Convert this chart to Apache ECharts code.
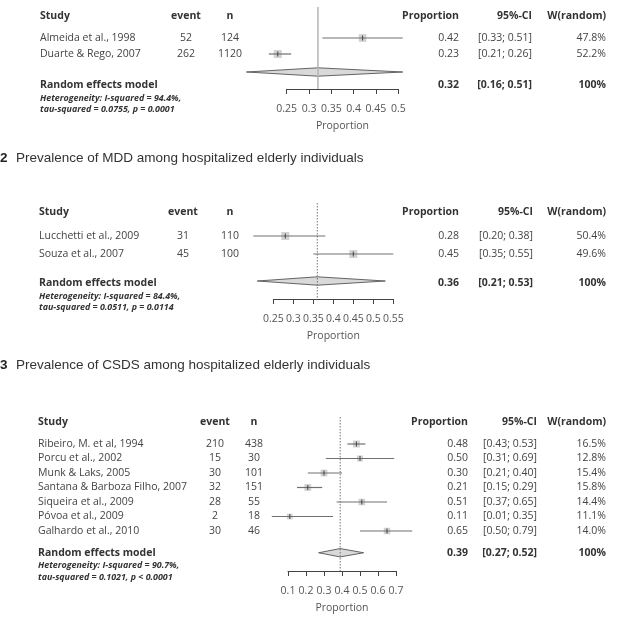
<!DOCTYPE html>
<html>
<head>
<meta charset="utf-8">
<script src="https://cdn.jsdelivr.net/npm/echarts@6.0.0/dist/echarts.min.js"></script>
<style>
  html, body { margin: 0; padding: 0; background: #fff; }
  #chart { width: 621px; height: 621px; }
</style>
</head>
<body>
<div id="chart"></div>
<script>
// ---- data: panel 1 (its title is cropped off) ----
const studies1 = ["Almeida et al., 1998", "Duarte & Rego, 2007"];
const events1 = [52, 262];
const totals1 = [124, 1120];
const props1 = [0.42, 0.23];
const ciLow1 = [0.33, 0.21];
const ciHigh1 = [0.51, 0.26];
const weights1 = ["47.8%", "52.2%"];
const summary1 = [0.32, 0.16, 0.51];
const summaryText1 = ["0.32", "[0.16; 0.51]", "100%"];
const het1 = ["Heterogeneity: I-squared = 94.4%,", "tau-squared = 0.0755, p = 0.0001"];
const ticks1 = [0.25, 0.3, 0.35, 0.4, 0.45, 0.5];

// ---- data: panel 2 ----
const title2 = ["2", "Prevalence of MDD among hospitalized elderly individuals"];
const studies2 = ["Lucchetti et al., 2009", "Souza et al., 2007"];
const events2 = [31, 45];
const totals2 = [110, 100];
const props2 = [0.28, 0.45];
const ciLow2 = [0.20, 0.35];
const ciHigh2 = [0.38, 0.55];
const weights2 = ["50.4%", "49.6%"];
const summary2 = [0.36, 0.21, 0.53];
const summaryText2 = ["0.36", "[0.21; 0.53]", "100%"];
const het2 = ["Heterogeneity: I-squared = 84.4%,", "tau-squared = 0.0511, p = 0.0114"];
const ticks2 = [0.25, 0.3, 0.35, 0.4, 0.45, 0.5, 0.55];

// ---- data: panel 3 ----
const title3 = ["3", "Prevalence of CSDS among hospitalized elderly individuals"];
const studies3 = ["Ribeiro, M. et al, 1994", "Porcu et al., 2002", "Munk & Laks, 2005",
  "Santana & Barboza Filho, 2007", "Siqueira et al., 2009", "Póvoa et al., 2009", "Galhardo et al., 2010"];
const events3 = [210, 15, 30, 32, 28, 2, 30];
const totals3 = [438, 30, 101, 151, 55, 18, 46];
const props3 = [0.48, 0.50, 0.30, 0.21, 0.51, 0.11, 0.65];
const ciLow3 = [0.43, 0.31, 0.21, 0.15, 0.37, 0.01, 0.50];
const ciHigh3 = [0.53, 0.69, 0.40, 0.29, 0.65, 0.35, 0.79];
const weights3 = ["16.5%", "12.8%", "15.4%", "15.8%", "14.4%", "11.1%", "14.0%"];
const summary3 = [0.39, 0.27, 0.52];
const summaryText3 = ["0.39", "[0.27; 0.52]", "100%"];
const het3 = ["Heterogeneity: I-squared = 90.7%,", "tau-squared = 0.1021, p < 0.0001"];
const ticks3 = [0.1, 0.2, 0.3, 0.4, 0.5, 0.6, 0.7];

const headers = ["Study", "event", "n", "Proportion", "95%-CI", "W(random)"];

// ---- layout (pixels) ----
const panels = [
  {
    studies: studies1, events: events1, totals: totals1, props: props1, lo: ciLow1, hi: ciHigh1,
    weights: weights1, summary: summary1, summaryText: summaryText1, het: het1, ticks: ticks1,
    left: 286.7, right: 398.3, top: 7, axisY: 89, row0: 38, step: 16, headerY: 16,
    sumRow: 2.125, sumTextY: 85, hetY: [98, 109], box: 8, refDash: "solid",
    cols: { study: 40, event: 186, n: 230, prop: 459, ci: 532, w: 606 }
  },
  {
    title: title2, titleY: 158,
    studies: studies2, events: events2, totals: totals2, props: props2, lo: ciLow2, hi: ciHigh2,
    weights: weights2, summary: summary2, summaryText: summaryText2, het: het2, ticks: ticks2,
    left: 273.3, right: 393.3, top: 203, axisY: 299, row0: 236, step: 18, headerY: 212.5,
    sumRow: 2.5, sumTextY: 283, hetY: [296, 307], box: 8, refDash: "dotted",
    cols: { study: 39, event: 183, n: 230, prop: 459, ci: 533, w: 606 }
  },
  {
    title: title3, titleY: 365,
    studies: studies3, events: events3, totals: totals3, props: props3, lo: ciLow3, hi: ciHigh3,
    weights: weights3, summary: summary3, summaryText: summaryText3, het: het3, ticks: ticks3,
    left: 288, right: 396, top: 417, axisY: 571, row0: 444, step: 14.5, headerY: 422,
    sumRow: 7.5, sumTextY: 553, hetY: [565, 577], box: 7, refDash: "dotted",
    cols: { study: 38, event: 215, n: 254, prop: 468, ci: 537, w: 606 }
  }
];

const FONT = '"Open Sans", sans-serif';
const TXT = "#444";
const HEAD = "#333";

const chart = echarts.init(document.getElementById("chart"));

const grids = [];
const xAxes = [];
const yAxes = [];
const series = [];
const graphics = [];

function text(x, y, s, o) {
  o = o || {};
  graphics.push({
    type: "text", x: x, y: y, silent: true,
    style: {
      text: String(s),
      fill: o.fill || TXT,
      fontFamily: o.family || FONT,
      fontSize: o.size || 10.5,
      fontWeight: o.weight || "normal",
      fontStyle: o.style || "normal",
      align: o.align || "left",
      verticalAlign: "middle"
    }
  });
}

panels.forEach(function (p, i) {
  grids.push({ left: p.left, top: p.top, width: p.right - p.left, height: p.axisY - p.top });
  xAxes.push({
    type: "value", gridIndex: i,
    min: p.ticks[0], max: p.ticks[p.ticks.length - 1],
    splitLine: { show: false },
    axisLine: { show: true, onZero: false, lineStyle: { color: "#444", width: 1 } },
    axisTick: { show: true, length: 5, customValues: p.ticks, lineStyle: { color: "#444" } },
    axisLabel: { customValues: p.ticks, margin: 15, color: "#555", fontFamily: FONT, fontSize: 10.5 },
    name: "Proportion", nameLocation: "middle", nameGap: 32,
    nameTextStyle: { color: "#555", fontFamily: FONT, fontSize: 10.5 }
  });
  yAxes.push({
    type: "value", gridIndex: i, inverse: true, show: false,
    min: (p.top - p.row0) / p.step, max: (p.axisY - p.row0) / p.step
  });

  const wNum = p.weights.map(function (w) { return parseFloat(w); });
  const wMax = Math.max.apply(null, wNum);
  const studyData = p.props.map(function (v, k) { return [v, p.lo[k], p.hi[k], k, wNum[k]]; });

  series.push({
    type: "custom", xAxisIndex: i, yAxisIndex: i, clip: false, silent: true,
    data: studyData,
    encode: { x: [0, 1, 2], y: 3 },
    renderItem: function (params, api) {
      const row = api.value(3);
      const e = api.coord([api.value(0), row]);
      const a = api.coord([api.value(1), row]);
      const b = api.coord([api.value(2), row]);
      const s = p.box * Math.sqrt(api.value(4) / wMax);
      return {
        type: "group",
        children: [
          { type: "rect", shape: { x: e[0] - s / 2, y: e[1] - s / 2, width: s, height: s }, style: { fill: "#d2d2d2" } },
          { type: "line", shape: { x1: a[0], y1: a[1], x2: b[0], y2: b[1] }, style: { stroke: "#707070", lineWidth: 1.2 } },
          { type: "line", shape: { x1: e[0], y1: e[1] - 2.5, x2: e[0], y2: e[1] + 2.5 }, style: { stroke: "#333", lineWidth: 0.9 } }
        ]
      };
    }
  });

  series.push({
    type: "custom", xAxisIndex: i, yAxisIndex: i, clip: false, silent: true,
    data: [[p.summary[0], p.summary[1], p.summary[2], p.sumRow]],
    encode: { x: [0, 1, 2], y: 3 },
    renderItem: function (params, api) {
      const row = api.value(3);
      const e = api.coord([api.value(0), row]);
      const a = api.coord([api.value(1), row]);
      const b = api.coord([api.value(2), row]);
      const cs = params.coordSys;
      const h = 4.2;
      return {
        type: "group",
        children: [
          {
            type: "polygon",
            shape: { points: [[a[0], a[1]], [e[0], e[1] - h], [b[0], b[1]], [e[0], e[1] + h]] },
            style: { fill: "#d9d9d9", stroke: "#555", lineWidth: 0.9 }
          },
          {
            type: "line",
            shape: { x1: e[0], y1: cs.y, x2: e[0], y2: cs.y + cs.height },
            style: p.refDash === "solid"
              ? { stroke: "#b4b4b4", lineWidth: 1.5 }
              : { stroke: "#666", lineWidth: 0.9, lineDash: [1.5, 1.5] }
          }
        ]
      };
    }
  });

  // title
  if (p.title) {
    text(0, p.titleY, p.title[0], { family: '"Liberation Sans", Arial, sans-serif', size: 13.5, weight: "bold", fill: "#222" });
    text(16, p.titleY, p.title[1], { family: '"Liberation Sans", Arial, sans-serif', size: 13.5, fill: "#333" });
  }

  // headers
  const c = p.cols;
  text(c.study, p.headerY, headers[0], { weight: "bold", fill: HEAD });
  text(c.event, p.headerY, headers[1], { weight: "bold", fill: HEAD, align: "center" });
  text(c.n, p.headerY, headers[2], { weight: "bold", fill: HEAD, align: "center" });
  text(c.prop, p.headerY, headers[3], { weight: "bold", fill: HEAD, align: "right" });
  text(c.ci, p.headerY, headers[4], { weight: "bold", fill: HEAD, align: "right" });
  text(c.w, p.headerY, headers[5], { weight: "bold", fill: HEAD, align: "right" });

  // study rows
  p.studies.forEach(function (name, k) {
    const y = p.row0 + k * p.step;
    text(c.study, y, name);
    text(c.event, y, p.events[k], { align: "center" });
    text(c.n, y, p.totals[k], { align: "center" });
    text(c.prop, y, p.props[k].toFixed(2), { align: "right" });
    text(c.ci, y, "[" + p.lo[k].toFixed(2) + "; " + p.hi[k].toFixed(2) + "]", { align: "right" });
    text(c.w, y, p.weights[k], { align: "right" });
  });

  // summary row
  text(c.study, p.sumTextY, "Random effects model", { weight: "bold", fill: HEAD });
  text(c.prop, p.sumTextY, p.summaryText[0], { weight: "bold", fill: HEAD, align: "right" });
  text(c.ci, p.sumTextY, p.summaryText[1], { weight: "bold", fill: HEAD, align: "right" });
  text(c.w, p.sumTextY, p.summaryText[2], { weight: "bold", fill: HEAD, align: "right" });
  text(c.study, p.hetY[0], p.het[0], { weight: "bold", style: "italic", size: 8.9, fill: HEAD });
  text(c.study, p.hetY[1], p.het[1], { weight: "bold", style: "italic", size: 8.9, fill: HEAD });
});

chart.setOption({
  animation: false,
  grid: grids,
  xAxis: xAxes,
  yAxis: yAxes,
  series: series,
  graphic: { elements: graphics }
});
</script>
</body>
</html>
